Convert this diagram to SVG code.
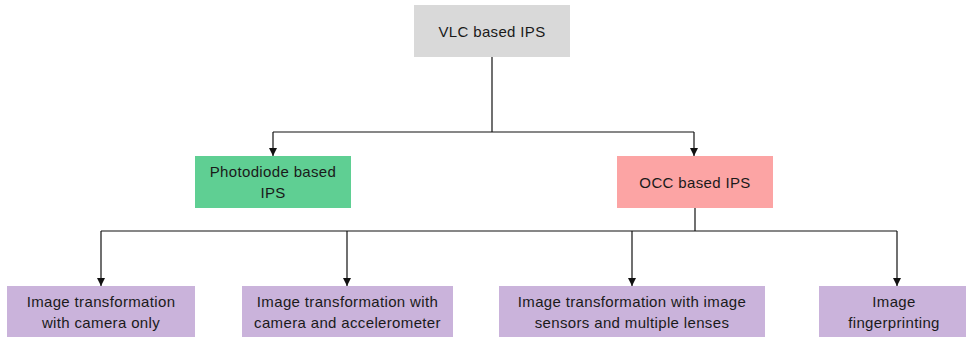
<svg xmlns="http://www.w3.org/2000/svg" width="966" height="337" viewBox="0 0 966 337">
<style>
  .t { font-family: "Liberation Sans", Arial, sans-serif; font-size: 15px; letter-spacing: 0.35px; fill: #1a1a1a; text-anchor: middle; }
  .c { fill: none; stroke: #111; stroke-width: 1.2; }
  .gray { fill: #D9D9D9; }
  .green { fill: #5FCF93; }
  .pink { fill: #FCA4A4; }
  .purple { fill: #CAB3DB; }
</style>
<defs>
  <marker id="arr" viewBox="0 0 10 10" refX="10" refY="5" markerWidth="8" markerHeight="8" markerUnits="userSpaceOnUse" orient="auto">
    <path d="M0,0 L10,5 L0,10 z" fill="#111"/>
  </marker>
</defs>
<rect width="966" height="337" fill="#fff"/>
<g id="connectors">
  <path class="c" d="M492,57 V132"/>
  <path class="c" d="M273,132 H694"/>
  <path class="c" d="M273,132 V156" marker-end="url(#arr)"/>
  <path class="c" d="M694,132 V156" marker-end="url(#arr)"/>
  <path class="c" d="M695,208 V231"/>
  <path class="c" d="M101,231 H897"/>
  <path class="c" d="M101,231 V286" marker-end="url(#arr)"/>
  <path class="c" d="M347,231 V286" marker-end="url(#arr)"/>
  <path class="c" d="M632,231 V286" marker-end="url(#arr)"/>
  <path class="c" d="M897,231 V286" marker-end="url(#arr)"/>
</g>
<g id="vlc">
  <rect class="gray" x="414" y="5" width="156" height="52"/>
  <text class="t" x="492" y="37">VLC based IPS</text>
</g>
<g id="photodiode">
  <rect class="green" x="195" y="156" width="156" height="52"/>
  <text class="t" x="273" y="177">Photodiode based</text>
  <text class="t" x="273" y="198">IPS</text>
</g>
<g id="occ">
  <rect class="pink" x="617" y="156" width="156" height="52"/>
  <text class="t" x="695" y="188">OCC based IPS</text>
</g>
<g id="camera-only">
  <rect class="purple" x="7" y="286" width="188" height="51"/>
  <text class="t" x="101" y="307">Image transformation</text>
  <text class="t" x="101" y="328">with camera only</text>
</g>
<g id="camera-accel">
  <rect class="purple" x="242" y="286" width="211" height="51"/>
  <text class="t" x="347.5" y="307">Image transformation with</text>
  <text class="t" x="347.5" y="328">camera and accelerometer</text>
</g>
<g id="sensors-lenses">
  <rect class="purple" x="499" y="286" width="266" height="51"/>
  <text class="t" x="632" y="307">Image transformation with image</text>
  <text class="t" x="632" y="328">sensors and multiple lenses</text>
</g>
<g id="fingerprinting">
  <rect class="purple" x="819" y="286" width="147" height="51"/>
  <text class="t" x="894" y="307">Image</text>
  <text class="t" x="894" y="328">fingerprinting</text>
</g>
</svg>
